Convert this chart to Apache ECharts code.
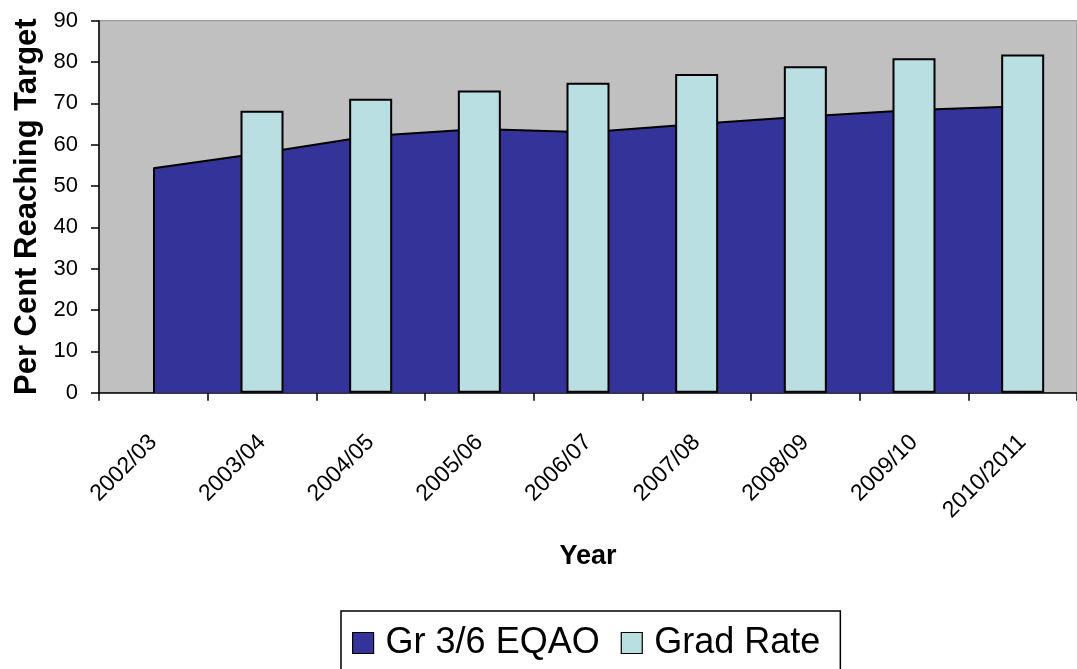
<!DOCTYPE html>
<html>
<head>
<meta charset="utf-8">
<style>
  html, body { margin: 0; padding: 0; background: #ffffff; }
  #chart { width: 1077px; height: 669px; }
</style>
<script src="https://cdn.jsdelivr.net/npm/echarts@6/dist/echarts.min.js"></script>
</head>
<body>
<div id="chart"></div>
<script>
// School years on the category axis
const years = ['2002/03', '2003/04', '2004/05', '2005/06', '2006/07', '2007/08', '2008/09', '2009/10', '2010/2011'];
// Grade 3/6 EQAO results (per cent reaching target)
const eqao = [54.3, 58.0, 62.1, 63.8, 63.0, 65.0, 66.8, 68.4, 69.3];
// Graduation rate (no value for the first year)
const gradRate = [null, 68.2, 71.1, 73.1, 75.0, 77.1, 79.0, 80.9, 81.8];
// Value axis ticks
const yTicks = [0, 10, 20, 30, 40, 50, 60, 70, 80, 90];

const FONT = '"Liberation Sans", Arial, sans-serif';
const DARK = '#333399';
const LIGHT = '#B9DFE3';

const chart = echarts.init(document.getElementById('chart'), null, { renderer: 'canvas' });

chart.setOption({
  animation: false,
  backgroundColor: '#ffffff',
  textStyle: { fontFamily: FONT, color: '#000' },
  grid: {
    left: 99,
    top: 20.7,
    width: 983.5,
    height: 372,
    show: true,
    backgroundColor: '#C0C0C0',
    borderColor: '#8a8a8a',
    borderWidth: 1
  },
  legend: {
    left: 341,
    top: 611,
    orient: 'horizontal',
    padding: [14, 20, 24, 11],
    itemGap: 21,
    itemWidth: 21,
    itemHeight: 21,
    borderColor: '#000',
    borderWidth: 1.5,
    backgroundColor: '#fff',
    textStyle: { fontFamily: FONT, fontSize: 36, color: '#000', padding: [0, 0, 0, 7] },
    data: [
      { name: 'Gr 3/6 EQAO', icon: 'rect', itemStyle: { color: DARK, borderColor: '#000', borderWidth: 1.2 } },
      { name: 'Grad Rate', icon: 'rect', itemStyle: { color: LIGHT, borderColor: '#000', borderWidth: 1.2 } }
    ]
  },
  xAxis: {
    type: 'category',
    data: years,
    boundaryGap: true,
    name: 'Year',
    nameLocation: 'middle',
    nameGap: 150,
    nameTextStyle: { fontFamily: FONT, fontSize: 27, fontWeight: 'bold', color: '#000' },
    axisLine: { show: true, lineStyle: { color: '#000', width: 1.5 } },
    axisTick: { show: true, interval: 0, length: 8, lineStyle: { color: '#000', width: 1.5 } },
    axisLabel: {
      interval: 0,
      rotate: 45,
      margin: 46,
      fontFamily: FONT,
      fontSize: 23,
      color: '#000'
    },
    splitLine: { show: false }
  },
  yAxis: {
    type: 'value',
    min: yTicks[0],
    max: yTicks[yTicks.length - 1],
    interval: yTicks[1] - yTicks[0],
    name: 'Per Cent Reaching Target',
    nameLocation: 'middle',
    nameGap: 50,
    nameTextStyle: { fontFamily: FONT, fontSize: 31, fontWeight: 'bold', color: '#000' },
    axisLine: { show: true, lineStyle: { color: '#000', width: 1.5 } },
    axisTick: { show: true, length: 8, lineStyle: { color: '#000', width: 1.5 } },
    axisLabel: { margin: 21, fontFamily: FONT, fontSize: 22, color: '#000' },
    splitLine: { show: false }
  },
  series: [
    {
      name: 'Gr 3/6 EQAO',
      type: 'line',
      z: 2,
      data: eqao,
      symbol: 'none',
      lineStyle: { color: '#000', width: 2 },
      itemStyle: { color: DARK },
      areaStyle: { color: DARK, opacity: 1 },
      markLine: {
        silent: true,
        symbol: 'none',
        label: { show: false },
        lineStyle: { color: '#000', width: 2, type: 'solid' },
        data: [[
          { coord: [years[0], 0] },
          { coord: [years[0], eqao[0]] }
        ]]
      }
    },
    {
      name: 'Grad Rate',
      type: 'bar',
      z: 5,
      data: gradRate,
      barWidth: 43,
      itemStyle: { color: LIGHT, borderColor: '#000', borderWidth: 2 }
    }
  ]
});
</script>
</body>
</html>
